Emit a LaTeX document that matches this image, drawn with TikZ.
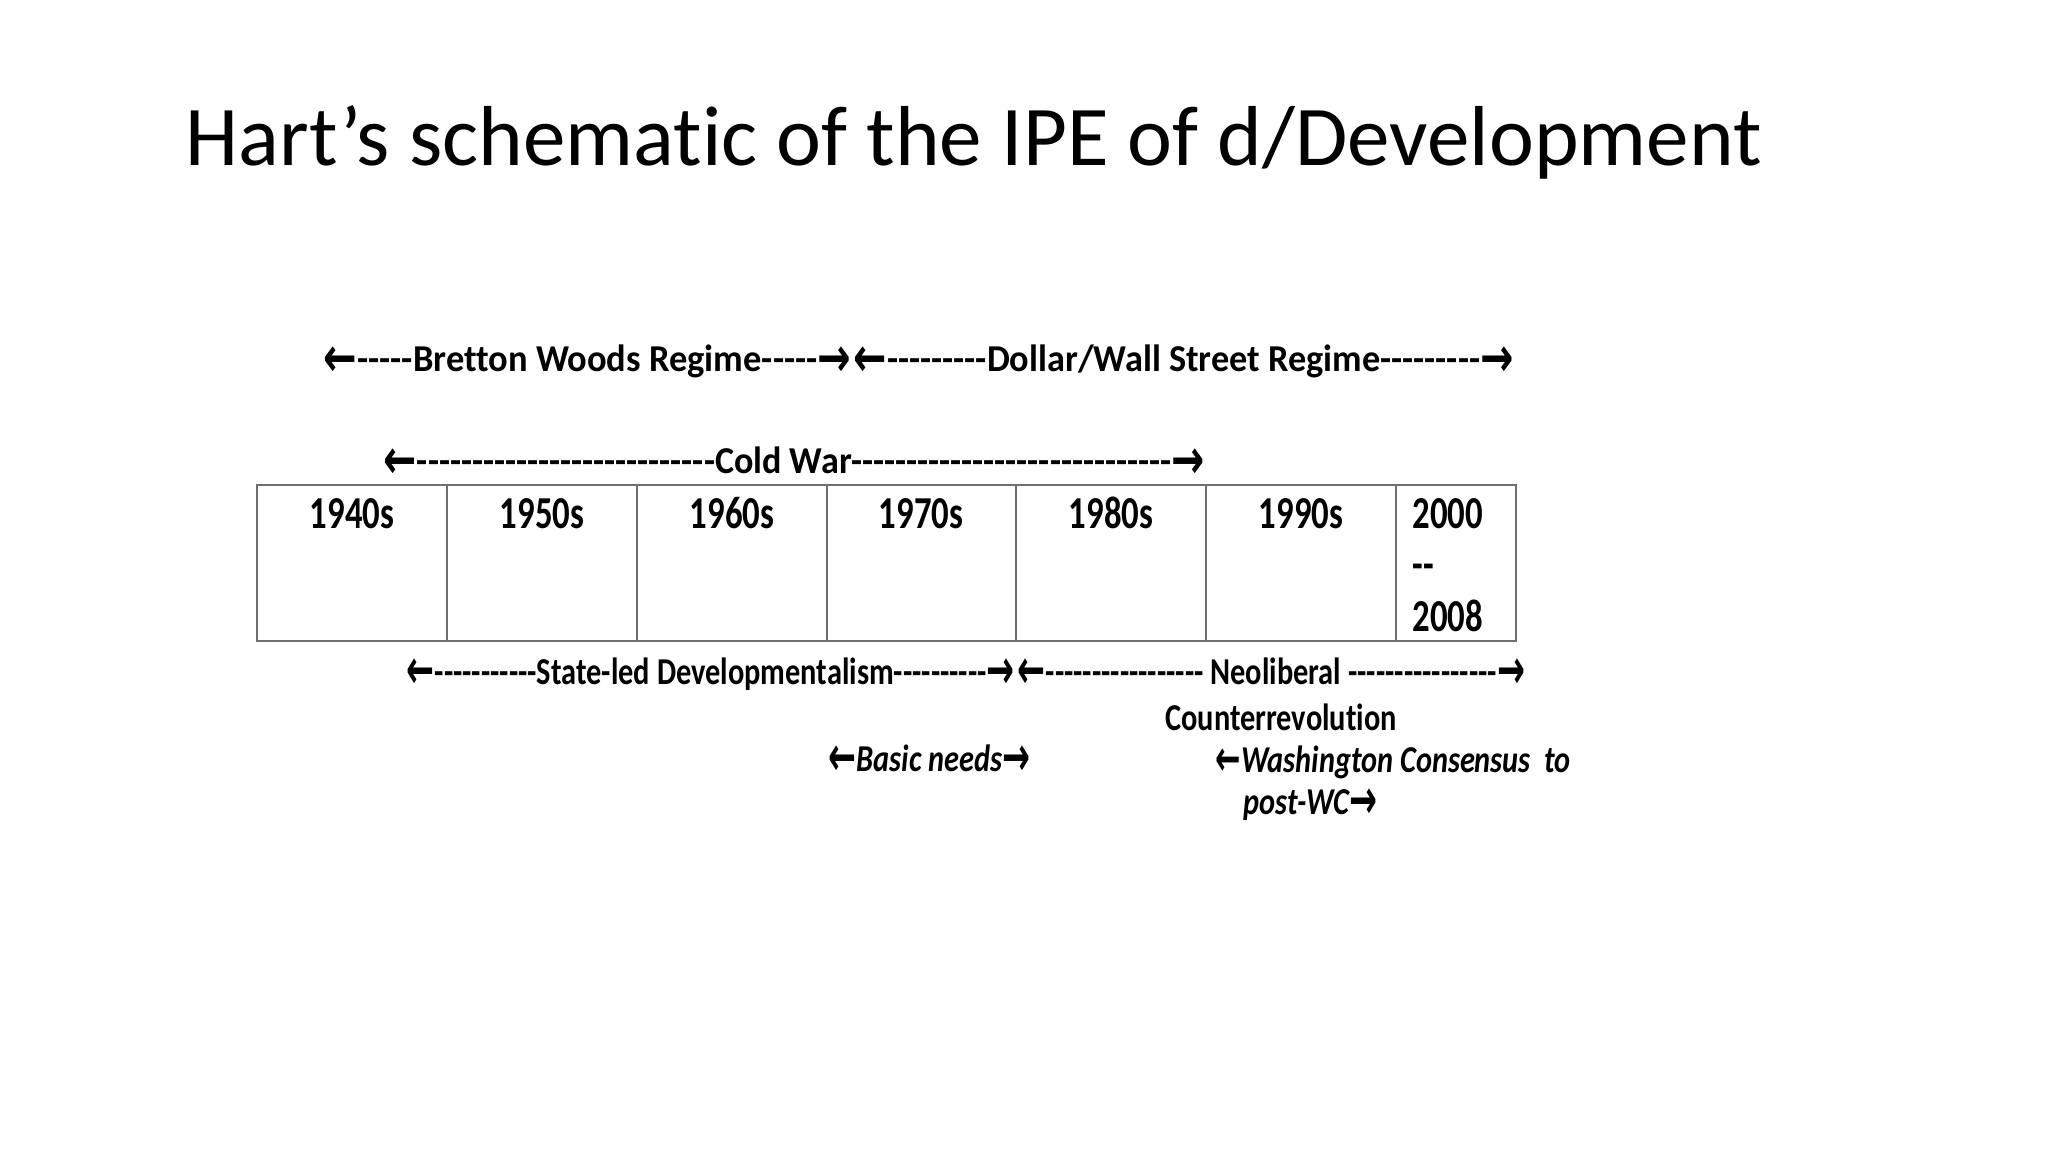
\documentclass[tikz,border=0pt]{standalone}
\usepackage{fontspec}
\usepackage{graphicx}
\setmainfont{Carlito}[Ligatures={TeXOff,NoCommon}]
\newfontfamily\arr{DejaVu Sans}
\newcommand\sqz[2]{\scalebox{#1}[1]{#2}}
\newcommand\ra{{\arr\bfseries\raisebox{-0.13em}{\scalebox{1.1}[1.45]{→}}}}
\newcommand\la{{\arr\bfseries\raisebox{-0.13em}{\scalebox{1.1}[1.45]{←}}}}
\newcommand\lat{{\arr\raisebox{-0.1em}{\scalebox{1.0}[1.3]{←}}}}
\definecolor{tline}{RGB}{110,110,110}
\tikzset{
  ttl/.style={anchor=base west, inner sep=0pt, font=\fontsize{24.2}{29}\selectfont},
  hdr/.style={anchor=base west, inner sep=0pt, font=\fontsize{10.8}{13}\selectfont\bfseries},
  yr/.style={anchor=base, inner sep=0pt, font=\fontsize{13}{15}\selectfont\bfseries},
  yrl/.style={anchor=base west, inner sep=0pt, font=\fontsize{13}{15}\selectfont\bfseries},
  grid/.style={draw=tline, line width=0.5pt}
}
\begin{document}
\begin{tikzpicture}[x=0.01cm,y=-0.01cm]
\useasboundingbox[fill=white] (0,0) rectangle (2048,1152);
\node[ttl] (title) at (185,166) {Hart’s schematic of the IPE of d/Development};

\node[hdr] (bw) at (323,372) {\sqz{0.96}{\la-----Bretton Woods Regime-----\ra}};
\node[hdr] (dw) at (853,372) {\sqz{0.955}{\la---------Dollar/Wall Street Regime---------\ra}};
\node[hdr] (cw) at (383,474) {\sqz{0.95}{\la---------------------------Cold War-----------------------------\ra}};

\draw[grid] (257,485) rectangle (1516,641);
\foreach \xx in {447,637,827,1016,1206,1396} \draw[grid] (\xx,485) -- (\xx,641);
\node[yr] (y40) at (352,529) {\sqz{0.76}{1940s}};
\node[yr] (y50) at (542,529) {\sqz{0.76}{1950s}};
\node[yr] (y60) at (732,529) {\sqz{0.76}{1960s}};
\node[yr] (y70) at (921,529) {\sqz{0.76}{1970s}};
\node[yr] (y80) at (1111,529) {\sqz{0.76}{1980s}};
\node[yr] (y90) at (1301,529) {\sqz{0.76}{1990s}};
\node[yrl] (y00) at (1412,529) {\sqz{0.76}{2000}};
\node[yrl] (ydash) at (1412,580) {\sqz{0.76}{--}};
\node[yrl] (y08) at (1412,631) {\sqz{0.76}{2008}};

\node[hdr] (sl) at (406,684) {\sqz{0.8}{\la-----------State-led Developmentalism----------\ra}};
\node[hdr] (nl) at (1017,684) {\sqz{0.8}{\la----------------- Neoliberal ----------------\ra}};
\node[hdr, anchor=base] (cr) at (1281,730) {\sqz{0.8}{Counterrevolution}};
\node[hdr] (bn) at (828,771) {\sqz{0.8}{\itshape\la Basic needs\ra}};
\node[hdr] (wc) at (1215,772) {\sqz{0.8}{\itshape\lat Washington Consensus\ \ to}};
\node[hdr] (pw) at (1243,814) {\sqz{0.8}{\itshape post-WC\ra}};
\end{tikzpicture}
\end{document}
